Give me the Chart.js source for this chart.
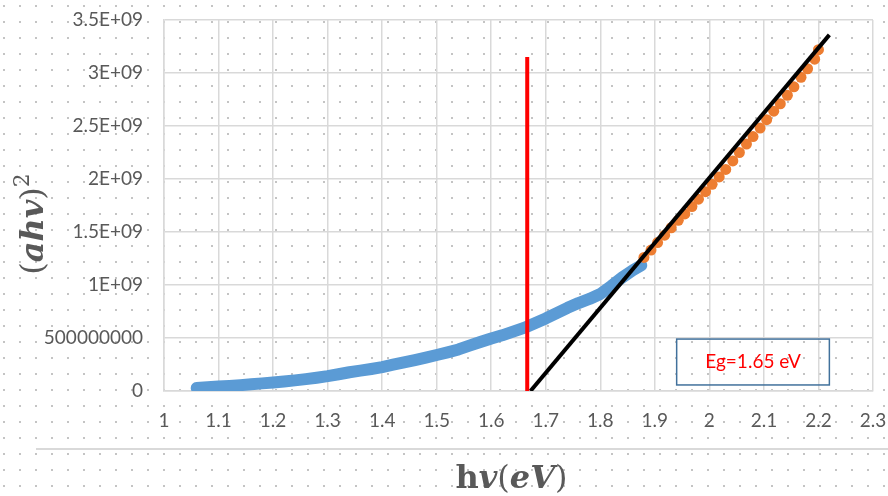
<!DOCTYPE html>
<html>
<head>
<meta charset="utf-8">
<script src="https://cdn.jsdelivr.net/npm/chart.js@4"></script>
<style>
  html, body { margin: 0; padding: 0; }
  body {
    width: 888px; height: 496px; position: relative; overflow: hidden;
    background-color: #fff;
    background-image: radial-gradient(circle, #c4c4c4 0.9px, transparent 1.4px);
    background-size: 16px 16px;
    background-position: -4px -2px;
  }
  #pageLine { position: absolute; left: 36px; top: 448px; width: 852px; height: 2px; background: #d9d9d9; }
  canvas { position: absolute; left: 0; top: 0; }
</style>
</head>
<body>
<div id="pageLine"></div>
<canvas id="chart" width="888" height="496"></canvas>
<script>
// Tauc plot: (ahv)^2 against photon energy, with the linear fit that gives Eg

// measured curve (blue)
const measX = [1.06, 1.08, 1.10, 1.12, 1.14, 1.16, 1.18, 1.20, 1.22, 1.24,
               1.26, 1.28, 1.30, 1.32, 1.34, 1.36, 1.38, 1.40, 1.42, 1.44,
               1.46, 1.48, 1.50, 1.52, 1.54, 1.56, 1.58, 1.60, 1.62, 1.64,
               1.66, 1.68, 1.70, 1.72, 1.74, 1.76, 1.78, 1.80, 1.82, 1.84,
               1.86, 1.875]
const measY = [28e6, 35e6, 42e6, 48e6, 55e6, 63e6, 72e6, 80e6, 90e6, 100e6,
               112e6, 125e6, 140e6, 158e6, 177e6, 192e6, 208e6, 226e6, 248e6, 270e6,
               292e6, 315e6, 340e6, 365e6, 392e6, 428e6, 462e6, 495e6, 525e6, 560e6,
               595e6, 640e6, 685e6, 735e6, 785e6, 830e6, 868e6, 915e6, 990e6, 1070e6,
               1140e6, 1185e6]

// linear region used for the fit (orange)
const linX = [1.880, 1.893, 1.905, 1.918, 1.930, 1.943, 1.955, 1.968, 1.980, 1.993,
              2.005, 2.018, 2.030, 2.043, 2.055, 2.068, 2.080, 2.093, 2.105, 2.118,
              2.130, 2.143, 2.155, 2.168, 2.180, 2.193, 2.200]
const linY = [1.26e9, 1.33e9, 1.40e9, 1.47e9, 1.54e9, 1.61e9, 1.67e9, 1.74e9, 1.81e9, 1.88e9,
              1.95e9, 2.02e9, 2.09e9, 2.17e9, 2.25e9, 2.33e9, 2.40e9, 2.48e9, 2.56e9, 2.64e9,
              2.71e9, 2.79e9, 2.87e9, 2.96e9, 3.04e9, 3.13e9, 3.22e9]

// fitted straight line (black) and band gap marker (red)
const fitX = [1.672, 2.22]
const fitY = [0, 3.36e9]
const egX = [1.666, 1.666]
const egY = [0, 3.15e9]

const xTickLabels = ['1', '1.1', '1.2', '1.3', '1.4', '1.5', '1.6', '1.7', '1.8', '1.9', '2', '2.1', '2.2', '2.3']
const yTickLabels = ['0', '500000000', '1E+09', '1.5E+09', '2E+09', '2.5E+09', '3E+09', '3.5E+09']
const egLabel = 'Eg=1.65 eV'

const toPoints = (xs, ys) => xs.map((x, i) => ({ x, y: ys[i] }))

const GREY = '#595959'
const GRID = '#d9d9d9'

// text made of runs with different styles (math-like axis titles)
const xTitleRuns = [
  { text: 'h', font: 'bold 32px "DejaVu Serif"' },
  { text: 'v', font: 'bold italic 32px "DejaVu Serif"' },
  { text: '(', font: '32px "DejaVu Serif"' },
  { text: 'eV', font: 'bold italic 32px "DejaVu Serif"' },
  { text: ')', font: '32px "DejaVu Serif"' }
]
const yTitleRuns = [
  { text: '(', font: '32px "DejaVu Serif"' },
  { text: 'ahv', font: 'bold italic 32px "DejaVu Serif"' },
  { text: ')', font: '32px "DejaVu Serif"' },
  { text: '2', font: '22px "DejaVu Serif"', rise: 14 }
]

function drawRuns(c, runs, cx, baseline) {
  let w = 0
  runs.forEach(r => { c.font = r.font; w += c.measureText(r.text).width })
  let x = cx - w / 2
  runs.forEach(r => {
    c.font = r.font
    c.fillText(r.text, x, baseline - (r.rise || 0))
    x += c.measureText(r.text).width
  })
}

const extras = {
  id: 'extras',
  afterDraw(chart) {
    const c = chart.ctx
    const { x, y } = chart.scales
    const area = chart.chartArea
    c.save()
    c.fillStyle = GREY
    c.textAlign = 'left'
    c.textBaseline = 'alphabetic'
    drawRuns(c, xTitleRuns, (area.left + area.right) / 2 - 7, 488)

    c.save()
    c.translate(43, 224)
    c.rotate(-Math.PI / 2)
    drawRuns(c, yTitleRuns, 0, 0)
    c.restore()

    // Eg text box
    const bx1 = x.getPixelForValue(1.94), bx2 = x.getPixelForValue(2.22)
    const by1 = y.getPixelForValue(0.49e9), by2 = y.getPixelForValue(0.057e9)
    c.strokeStyle = '#41719c'
    c.lineWidth = 1.5
    c.strokeRect(bx1, by1, bx2 - bx1, by2 - by1)
    c.fillStyle = '#ff0000'
    c.font = '19px Lato'
    c.textAlign = 'center'
    c.textBaseline = 'middle'
    c.fillText(egLabel, (bx1 + bx2) / 2, (by1 + by2) / 2)
    c.restore()
  }
}

Chart.defaults.font.family = 'Lato'
Chart.defaults.color = GREY

const ctx = document.getElementById('chart').getContext('2d')
new Chart(ctx, {
  type: 'scatter',
  data: {
    datasets: [
      { label: 'Eg', data: toPoints(egX, egY), showLine: true, borderColor: '#ff0000', borderWidth: 4, pointRadius: 0 },
      { label: 'fit', data: toPoints(fitX, fitY), showLine: true, borderColor: '#000000', borderWidth: 4, pointRadius: 0 },
      { label: 'linear', data: toPoints(linX, linY), backgroundColor: '#ed7d31', borderWidth: 0, pointRadius: 5.5 },
      {
        label: 'measured', data: toPoints(measX, measY), showLine: true,
        borderColor: '#5b9bd5', borderWidth: 12, borderCapStyle: 'round', borderJoinStyle: 'round',
        pointRadius: 0
      }
    ]
  },
  options: {
    responsive: false,
    animation: false,
    layout: { autoPadding: false, padding: { top: 20, right: 15, left: 0, bottom: 0 } },
    plugins: { legend: { display: false }, tooltip: { enabled: false } },
    scales: {
      x: {
        type: 'linear', min: 1, max: 2.3,
        // fixed axis band; the edge labels may hang into the outer padding
        afterFit: s => { s.height = 105; s.paddingLeft = 0; s.paddingRight = 0 },
        grid: { color: GRID, lineWidth: 1.5, drawTicks: false },
        border: { color: GRID, width: 1.5 },
        ticks: {
          stepSize: 0.1, padding: 18, color: GREY, font: { size: 19 },
          maxRotation: 0, autoSkip: false,
          callback: (v, i) => xTickLabels[i]
        }
      },
      y: {
        min: 0, max: 3.5e9,
        afterFit: s => { s.width = 164; s.paddingTop = 0; s.paddingBottom = 0 },
        grid: { color: GRID, lineWidth: 1.5, drawTicks: false },
        border: { color: GRID, width: 1.5 },
        ticks: {
          stepSize: 0.5e9, padding: 21, color: GREY, font: { size: 19 },
          callback: (v, i) => yTickLabels[i]
        }
      }
    }
  },
  plugins: [extras]
})
</script>
</body>
</html>
